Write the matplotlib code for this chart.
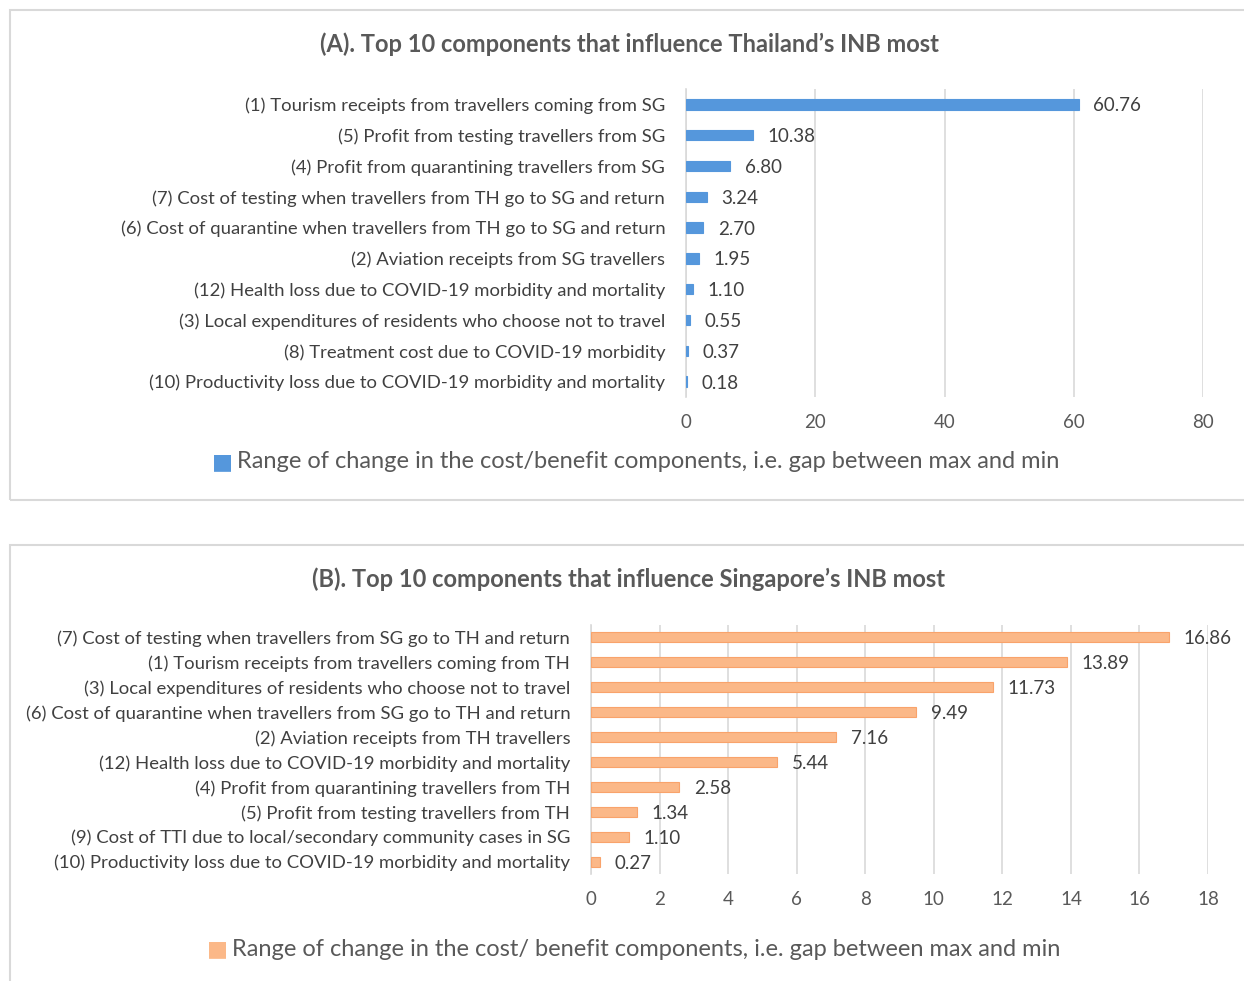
import numpy as np
import matplotlib.pyplot as plt
from matplotlib.patches import Rectangle

plt.rcParams['font.family'] = ['Lato', 'DejaVu Sans']

# panel A data (Thailand)
labels_a = ['(1) Tourism receipts from travellers coming from SG',
            '(5) Profit from testing travellers from SG',
            '(4) Profit from quarantining travellers from SG',
            '(7) Cost of testing when travellers from TH go to SG and return',
            '(6) Cost of quarantine when travellers from TH go to SG and return',
            '(2) Aviation receipts from SG travellers',
            '(12) Health loss due to COVID-19 morbidity and mortality',
            '(3) Local expenditures of residents who choose not to travel',
            '(8) Treatment cost due to COVID-19 morbidity',
            '(10) Productivity loss due to COVID-19 morbidity and mortality']
values_a = [60.76, 10.38, 6.80, 3.24, 2.70, 1.95, 1.10, 0.55, 0.37, 0.18]
ticks_a = [0, 20, 40, 60, 80]

# panel B data (Singapore)
labels_b = ['(7) Cost of testing when travellers from SG go to TH and return',
            '(1) Tourism receipts from travellers coming from TH',
            '(3) Local expenditures of residents who choose not to travel',
            '(6) Cost of quarantine when travellers from SG go to TH and return',
            '(2) Aviation receipts from TH travellers',
            '(12) Health loss due to COVID-19 morbidity and mortality',
            '(4) Profit from quarantining travellers from TH',
            '(5) Profit from testing travellers from TH',
            '(9) Cost of TTI due to local/secondary community cases in SG',
            '(10) Productivity loss due to COVID-19 morbidity and mortality']
values_b = [16.86, 13.89, 11.73, 9.49, 7.16, 5.44, 2.58, 1.34, 1.10, 0.27]
ticks_b = list(range(0, 19, 2))

W, H = 1244, 981
fig = plt.figure(figsize=(W / 100, H / 100), dpi=100)
fig.patch.set_facecolor('white')

txt = '#404040'
grid = '#d9d9d9'


def px_axes(x0, y0, x1, y1):
    # pixel box (top-left origin) -> figure axes
    return fig.add_axes([x0 / W, 1 - y1 / H, (x1 - x0) / W, (y1 - y0) / H])


def panel(box, area, labels, values, ticks, xmax, color, edge, height,
          title, title_y, legend_text, legend_y, legend_x):
    bx0, by0, bx1, by1 = box
    fig.patches.append(Rectangle((bx0 / W, 1 - by1 / H), (bx1 - bx0) / W, (by1 - by0) / H,
                                 transform=fig.transFigure, fill=False,
                                 edgecolor='#d9d9d9', lw=1.5))
    ax = px_axes(*area)
    y = np.arange(len(values))
    ax.barh(y, values, height=height, color=color, edgecolor=edge, lw=0.8, zorder=3)
    ax.set_ylim(len(values) - 0.5, -0.5)
    ax.set_xlim(0, xmax)
    ax.set_xticks(ticks)
    ax.set_xticklabels([str(t) for t in ticks], fontsize=13.5, color='#595959')
    ax.set_yticks(y)
    ax.set_yticklabels(labels, fontsize=13.3, color=txt)
    ax.tick_params(length=0, pad=15)
    ax.tick_params(axis='x', pad=12)
    ax.grid(axis='x', color=grid, lw=1.2, zorder=0)
    for s in ['top', 'right', 'bottom']:
        ax.spines[s].set_visible(False)
    ax.spines['left'].set_color(grid)
    ax.spines['left'].set_linewidth(1.2)
    for yi, v in zip(y, values):
        ax.annotate('%.2f' % v, (v, yi), xytext=(10.5, 0), textcoords='offset points',
                    va='center_baseline', ha='left', fontsize=13.5, color=txt, zorder=4)
    fig.text(629 / W, 1 - title_y / H, title, ha='center', va='center',
             fontsize=17, fontweight='bold', color='#595959')
    fig.text(legend_x / W, 1 - legend_y / H, '\u25A0', ha='right', va='center',
             fontsize=16, color=color)
    fig.text(legend_x / W + 0.003, 1 - legend_y / H, legend_text, ha='left', va='center',
             fontsize=17, color='#595959')


panel((10, 10, 1260, 500), (686, 89, 1203, 397), labels_a, values_a, ticks_a, 80,
      '#5597dc', '#5597dc', 0.34,
      '(A). Top 10 components that influence Thailand\u2019s INB most', 44,
      'Range of change in the cost/benefit components, i.e. gap between max and min', 462, 233)

panel((10, 545, 1260, 1000), (591, 625, 1208, 874), labels_b, values_b, ticks_b, 18,
      '#fbb888', '#f9a36b', 0.4,
      '(B). Top 10 components that influence Singapore\u2019s INB most', 579,
      'Range of change in the cost/ benefit components, i.e. gap between max and min', 949, 228)

fig.savefig('out.png', dpi=100)
